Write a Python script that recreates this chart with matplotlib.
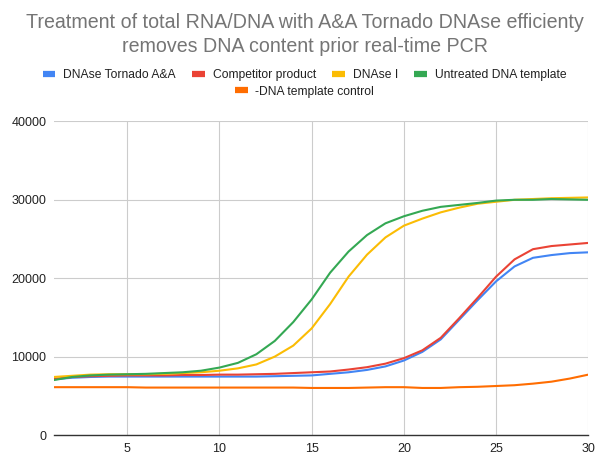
import matplotlib
matplotlib.use("Agg")
import matplotlib.pyplot as plt
from matplotlib.lines import Line2D

plt.rcParams['font.family'] = ['Liberation Sans', 'DejaVu Sans']

# cycle number
cycles = list(range(1, 31))

tornado = [7100, 7300, 7400, 7450, 7450, 7450, 7450, 7450, 7450, 7450,
           7450, 7450, 7500, 7550, 7600, 7800, 8000, 8300, 8750, 9500,
           10600, 12200, 14700, 17200, 19600, 21500, 22600, 22950, 23200, 23300]
competitor = [7150, 7400, 7500, 7550, 7600, 7600, 7600, 7650, 7650, 7700,
              7700, 7750, 7800, 7900, 8000, 8100, 8350, 8650, 9100, 9800,
              10800, 12400, 14900, 17500, 20200, 22400, 23700, 24100, 24300, 24500]
dnase_i = [7400, 7550, 7700, 7750, 7750, 7750, 7800, 7900, 8000, 8200,
           8500, 9000, 10000, 11400, 13600, 16700, 20200, 23000, 25200, 26700,
           27600, 28400, 29000, 29500, 29750, 30000, 30100, 30200, 30250, 30300]
untreated = [7000, 7400, 7600, 7700, 7750, 7800, 7900, 8000, 8200, 8600,
             9200, 10300, 12000, 14400, 17300, 20700, 23400, 25500, 27000, 27900,
             28600, 29100, 29350, 29600, 29900, 30000, 30000, 30100, 30050, 30000]
no_template = [6100, 6100, 6100, 6100, 6100, 6050, 6050, 6050, 6050, 6050,
               6050, 6050, 6050, 6050, 6000, 6000, 6000, 6050, 6100, 6100,
               6000, 6000, 6100, 6150, 6250, 6350, 6550, 6800, 7200, 7700]

names = ["DNAse Tornado A&A", "Competitor product", "DNAse I",
         "Untreated DNA template", "-DNA template control"]
series = [tornado, competitor, dnase_i, untreated, no_template]
colours = ["#4285F4", "#EA4335", "#FBBC04", "#34A853", "#FF6D01"]

fig = plt.figure(figsize=(6.09, 4.71), dpi=100)
ax = fig.add_axes([53.5/609, 1-435/471, (588.3-53.5)/609, (435-121.4)/471])

# draw order: last series on top like sheets does
for vals, c in zip(series, colours):
    ax.plot(cycles, vals, color=c, lw=1.5, solid_joinstyle='round')

ax.set_xlim(1, 30)
ax.set_ylim(0, 40000)
ax.set_xticks([5, 10, 15, 20, 25, 30])
ax.set_yticks([0, 10000, 20000, 30000, 40000])
ax.grid(True, color='#cccccc', lw=0.8)
ax.set_axisbelow(True)
for sp in ['top', 'right', 'left']:
    ax.spines[sp].set_visible(False)
ax.spines['bottom'].set_color('#333333')
ax.spines['bottom'].set_linewidth(1.0)
ax.tick_params(length=0, labelsize=9, colors='#222222', pad=6)
ax.tick_params(axis='y', pad=5)

fig.text(0.5, 1-23/471, "Treatment of total RNA/DNA with A&A Tornado DNAse efficienty",
         ha='center', va='center', fontsize=14.1, color='#757575')
fig.text(0.5, 1-47/471, "removes DNA content prior real-time PCR",
         ha='center', va='center', fontsize=14.1, color='#757575')

handles = [Line2D([0], [0], color=c, lw=4.5, solid_capstyle='butt') for c in colours]
kw = dict(frameon=False, fontsize=8.7, handlelength=1.05, handletextpad=0.65,
          columnspacing=1.35, borderaxespad=0, borderpad=0, labelcolor='#222222')
leg1 = fig.legend(handles[:4], names[:4], ncol=4, loc='center',
                  bbox_to_anchor=(0.5, 1-75/471), **kw)
fig.legend(handles[4:], names[4:], ncol=1, loc='center',
           bbox_to_anchor=(0.5, 1-91.5/471), **kw)

fig.savefig("out.png", dpi=100)
